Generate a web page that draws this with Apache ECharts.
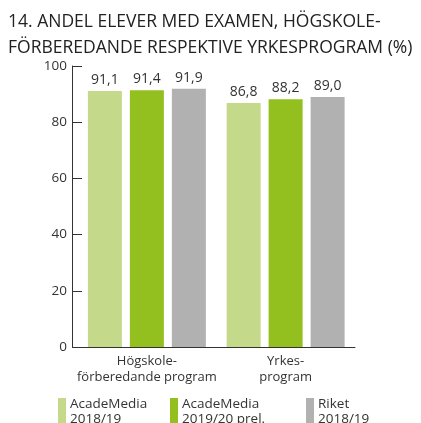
<!DOCTYPE html>
<html>
<head>
<meta charset="utf-8">
<script src="https://cdn.jsdelivr.net/npm/echarts@6/dist/echarts.min.js"></script>
<style>
  html, body { margin: 0; padding: 0; background: #fff; }
  #chart { width: 421px; height: 423px; }
</style>
</head>
<body>
<div id="chart"></div>
<script>
// kategorier och serier
const categories = ['Högskole-\nförberedande program', 'Yrkes-\nprogram']
const seriesNames = ['AcadeMedia\n2018/19', 'AcadeMedia\n2019/20 prel.', 'Riket\n2018/19']
const acadeMedia1819 = [91.1, 86.8]
const acadeMedia1920 = [91.4, 88.2]
const riket1819 = [91.9, 89.0]
const yTicks = [0, 20, 40, 60, 80, 100]

const colors = ['#c5d98a', '#93c01f', '#b1b1b1']
const font = '"Open Sans", "Noto Sans", sans-serif'

const chart = echarts.init(document.getElementById('chart'))

function makeSeries(name, data, color) {
  return {
    name: name,
    type: 'bar',
    data: data,
    barWidth: 34,
    barGap: '23.5%',
    itemStyle: { color: color },
    label: {
      show: true,
      position: 'top',
      distance: 4,
      fontFamily: font,
      fontSize: 14,
      color: '#333',
      formatter: p => p.value.toFixed(1).replace('.', ','),
    },
  }
}

// en legend per post för att styra placeringen
const legendLefts = [58, 170, 306]
const legends = seriesNames.map((n, i) => ({
  data: [n],
  left: legendLefts[i],
  top: 397,
  icon: 'rect',
  itemWidth: 8,
  itemHeight: 28,
  itemGap: 3,
  padding: 0,
  selectedMode: false,
  textStyle: { fontFamily: font, fontSize: 13.5, color: '#333', lineHeight: 15, padding: [0, 0, 0, -1] },
}))

const gridLeft = 77.5
const axisX = 72

chart.setOption({
  animation: false,
  title: {
    text: '14. ANDEL ELEVER MED EXAMEN, HÖGSKOLE-\nFÖRBEREDANDE RESPEKTIVE YRKESPROGRAM (%)',
    left: 8,
    top: 9,
    padding: 0,
    textStyle: { fontFamily: font, fontSize: 17.5, fontWeight: 'normal', color: '#222', lineHeight: 26 },
  },
  legend: legends,
  grid: { left: gridLeft, right: 66, top: 66, bottom: 76 },
  xAxis: {
    type: 'category',
    data: categories,
    axisLine: { lineStyle: { color: '#333', width: 1 } },
    axisTick: { show: false },
    axisLabel: { interval: 0, fontFamily: font, fontSize: 13, color: '#333', lineHeight: 16, margin: 6 },
  },
  yAxis: {
    type: 'value',
    min: yTicks[0],
    max: yTicks[yTicks.length - 1],
    interval: 20,
    offset: gridLeft - axisX,
    axisLine: { show: true, lineStyle: { color: '#333', width: 1 } },
    axisTick: { show: true, inside: true, length: 10, lineStyle: { color: '#333' } },
    splitLine: { show: false },
    axisLabel: { fontFamily: font, fontSize: 13.5, color: '#333', margin: 5 },
  },
  series: [
    makeSeries(seriesNames[0], acadeMedia1819, colors[0]),
    makeSeries(seriesNames[1], acadeMedia1920, colors[1]),
    makeSeries(seriesNames[2], riket1819, colors[2]),
  ],
})

// x-axelns linje ska börja vid y-axeln
const y0 = chart.convertToPixel({ yAxisIndex: 0 }, 0)
chart.setOption({
  graphic: [{
    type: 'line',
    shape: { x1: axisX, y1: Math.round(y0) + 0.5, x2: gridLeft + 1, y2: Math.round(y0) + 0.5 },
    style: { stroke: '#333', lineWidth: 1 },
  }],
})
</script>
</body>
</html>
